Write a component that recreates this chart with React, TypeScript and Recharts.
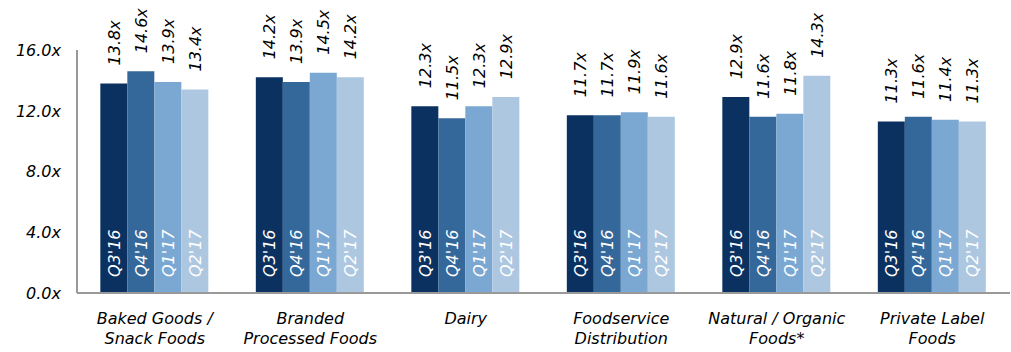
import { BarChart, Bar, XAxis, YAxis, LabelList } from 'recharts';

// 类目（两行显示）
const categories = [
  ['Baked Goods /', 'Snack Foods'],
  ['Branded', 'Processed Foods'],
  ['Dairy'],
  ['Foodservice', 'Distribution'],
  ['Natural / Organic', 'Foods*'],
  ['Private Label', 'Foods'],
];

const quarters = ["Q3'16", "Q4'16", "Q1'17", "Q2'17"];

const q316 = [13.8, 14.2, 12.3, 11.7, 12.9, 11.3];
const q416 = [14.6, 13.9, 11.5, 11.7, 11.6, 11.6];
const q117 = [13.9, 14.5, 12.3, 11.9, 11.8, 11.4];
const q217 = [13.4, 14.2, 12.9, 11.6, 14.3, 11.3];

const yTicks = [0, 4, 8, 12, 16];

const colors = ['#0b3160', '#34679a', '#7ba8d3', '#adc7e1'];
const FONT = '"DejaVu Sans", Verdana, sans-serif';

const data = categories.map((lines, i) => ({
  name: lines.join(' '),
  lines,
  q316: q316[i],
  q416: q416[i],
  q117: q117[i],
  q217: q217[i],
}));

const keys = ['q316', 'q416', 'q117', 'q217'];

// 柱顶数值标签（竖排）
const ValueLabel = (props: any) => {
  const { x, y, width, value } = props;
  const cx = x + width / 2 + 6;
  const cy = y - 18;
  return (
    <text
      x={cx}
      y={cy}
      transform={`rotate(-90 ${cx} ${cy})`}
      textAnchor="start"
      fontFamily={FONT}
      fontStyle="italic"
      fontSize={16}
      fill="#000"
    >
      {value.toFixed(1)}x
    </text>
  );
};

// 柱内季度标签
const makeQuarterLabel = (q: string) => (props: any) => {
  const { x, y, width, height } = props;
  const cx = x + width / 2 + 6;
  const cy = y + height - 16;
  return (
    <text
      x={cx}
      y={cy}
      transform={`rotate(-90 ${cx} ${cy})`}
      textAnchor="start"
      fontFamily={FONT}
      fontStyle="italic"
      fontSize={16}
      fill="#fff"
    >
      {q}
    </text>
  );
};

const CategoryTick = (props: any) => {
  const { x, y, index } = props;
  const lines = categories[index] || [];
  return (
    <g>
      {lines.map((l, i) => (
        <text
          key={i}
          x={x}
          y={y + 23 + i * 20}
          textAnchor="middle"
          fontFamily={FONT}
          fontStyle="italic"
          fontSize={16}
          fill="#000"
        >
          {l}
        </text>
      ))}
    </g>
  );
};

const ValueTick = (props: any) => {
  const { y, payload } = props;
  return (
    <text
      x={61}
      y={y}
      dy="0.36em"
      textAnchor="end"
      fontFamily={FONT}
      fontStyle="italic"
      fontSize={16}
      fill="#000"
    >
      {payload.value.toFixed(1)}x
    </text>
  );
};

export default function App() {
  return (
    <div style={{ position: 'absolute', left: 0, top: 0 }}>
      <BarChart
        width={1011}
        height={352}
        data={data}
        margin={{ top: 50, right: 1, bottom: 0, left: 0 }}
        barGap={0}
        barCategoryGap="15%"
      >
        <XAxis
          dataKey="name"
          axisLine={{ stroke: '#999', strokeWidth: 2 }}
          tickLine={false}
          tick={<CategoryTick />}
          interval={0}
          height={59}
        />
        <YAxis
          width={77}
          domain={[0, 16]}
          ticks={yTicks}
          axisLine={{ stroke: '#999', strokeWidth: 2 }}
          tickLine={false}
          tick={<ValueTick />}
        />
        {keys.map((k, i) => (
          <Bar key={k} dataKey={k} fill={colors[i]} isAnimationActive={false}>
            <LabelList dataKey={k} content={ValueLabel} />
            <LabelList dataKey={k} content={makeQuarterLabel(quarters[i])} />
          </Bar>
        ))}
      </BarChart>
    </div>
  );
}
